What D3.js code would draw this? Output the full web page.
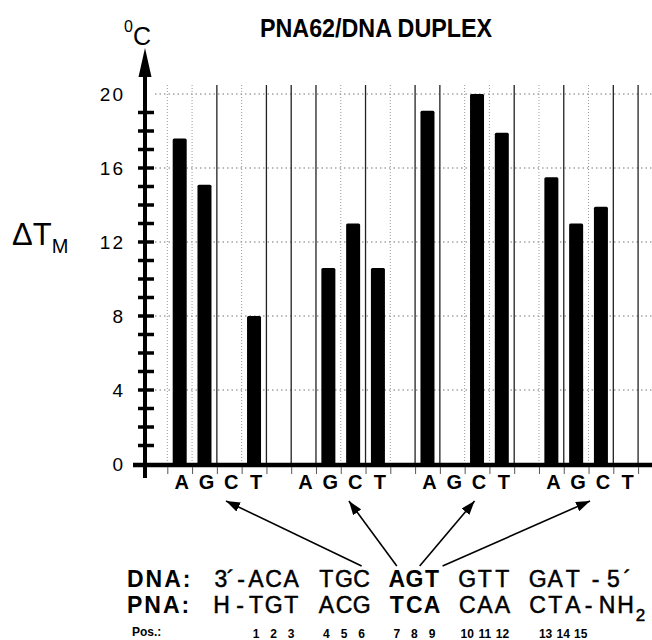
<!DOCTYPE html>
<html>
<head>
<meta charset="utf-8">
<script src="https://cdn.jsdelivr.net/npm/d3@7"></script>
<style>
  body { margin: 0; background: #fff; }
</style>
</head>
<body>
<div id="chart"></div>
<script>
// ---- data ----
const title = "PNA62/DNA DUPLEX";
const bases = ["A", "G", "C", "T"];
// delta Tm (°C) per mismatch base, one array per PNA region (null = no bar)
const tmGroup1 = [17.6, 15.1, null, 8.0];
const tmGroup2 = [null, 10.6, 13.0, 10.6];
const tmGroup3 = [19.1, null, 20.0, 17.9];
const tmGroup4 = [15.5, 13.0, 13.9, null];
const yLabelTicks = [0, 4, 8, 12, 16, 20];
const yMinorTicks = d3.range(1, 20);

const dnaCore = "ACA TGC AGT GTT GAT";
const pnaCore = "TGT ACG TCA CAA CTA";
const boldChars = [8, 9, 10];           // AGT / TCA highlighted
const posLabels = ["1", "2", "3", "", "4", "5", "6", "", "7", "8", "9", "", "10", "11", "12", "", "13", "14", "15"];
// arrows: from sequence character position to x-axis slot
const arrowFrom = [6, 8, 9.3, 10.6];
const arrowTo = [1.87, 6.83, 11.9, 16.56];

// ---- setup ----
const W = 652, H = 640;
const SANS = "'Liberation Sans', Arial, sans-serif";
const NARROW = "'Liberation Sans Narrow', 'Liberation Sans', Arial, sans-serif";

const svg = d3.select("#chart").append("svg")
  .attr("width", W).attr("height", H)
  .style("font-family", SANS);

const x = d3.scaleLinear().domain([0, 18]).range([179.7, 625.7]);   // slot index
const y = d3.scaleLinear().domain([0, 20]).range([464, 94]);
const seqX = d3.scaleLinear().domain([0, 16]).range([256, 537.6]);  // char index

const groups = [tmGroup1, tmGroup2, tmGroup3, tmGroup4];
const slots = [];
groups.forEach((g, gi) => g.forEach((v, j) => slots.push({ slot: gi * 5 + j, base: bases[j], v })));
const bars = slots.filter(d => d.v != null);

// ---- grid ----
const boundaries = d3.range(-0.5, 19, 1);
const solidIdx = [2, 4, 5, 6, 8, 10, 11, 14, 16, 18, 19];

const grid = svg.append("g");
grid.selectAll("line.h").data(yLabelTicks.filter(d => d > 0)).join("line")
  .attr("class", "h")
  .attr("x1", 155).attr("x2", W)
  .attr("y1", d => y(d)).attr("y2", d => y(d))
  .attr("stroke", "#777").attr("stroke-width", 1)
  .attr("stroke-dasharray", "1.5,3");

grid.selectAll("line.v").data(boundaries).join("line")
  .attr("class", "v")
  .attr("x1", d => x(d)).attr("x2", d => x(d))
  .attr("y1", 85).attr("y2", y(0))
  .attr("stroke", (d, i) => solidIdx.includes(i) ? "#222" : "#999")
  .attr("stroke-width", (d, i) => solidIdx.includes(i) ? 1.3 : 1)
  .attr("stroke-dasharray", (d, i) => solidIdx.includes(i) ? null : "1,2");

// ---- bars ----
svg.append("g").selectAll("rect").data(bars).join("rect")
  .attr("x", d => x(d.slot) - 7)
  .attr("width", 14)
  .attr("y", d => y(d.v))
  .attr("height", d => y(0) - y(d.v))
  .attr("rx", 1.5)
  .attr("fill", "#000");

// ---- x axis ----
svg.append("line")
  .attr("x1", 133).attr("x2", W)
  .attr("y1", y(0) + 1).attr("y2", y(0) + 1)
  .attr("stroke", "#000").attr("stroke-width", 4.5);

const xTicks = svg.append("g")
  .attr("transform", `translate(0,${y(0) + 3})`)
  .call(d3.axisBottom(x).tickValues(boundaries).tickSize(7).tickFormat(""));
xTicks.select(".domain").remove();
xTicks.selectAll(".tick line").attr("stroke", "#555").attr("stroke-width", 1);

const xLetters = svg.append("g")
  .attr("transform", `translate(1.5,${y(0)})`)
  .call(d3.axisBottom(x).tickValues(slots.map(d => d.slot))
    .tickFormat((d, i) => slots[i].base).tickSize(0).tickPadding(11));
xLetters.select(".domain").remove();
xLetters.selectAll("text")
  .attr("font-family", NARROW).attr("font-size", 20).attr("font-weight", "bold")
  .attr("fill", "#000");

// ---- y axis ----
svg.append("line")
  .attr("x1", 145).attr("x2", 145).attr("y1", 72).attr("y2", 478)
  .attr("stroke", "#000").attr("stroke-width", 4);
svg.append("path")
  .attr("d", d3.line()([[145, 48], [138.5, 77], [151.5, 77]]) + "Z")
  .attr("fill", "#000");

svg.append("g").selectAll("line").data(yMinorTicks).join("line")
  .attr("x1", 138).attr("x2", 154)
  .attr("y1", d => y(d)).attr("y2", d => y(d))
  .attr("stroke", "#000").attr("stroke-width", 3.5);

const yAxis = svg.append("g")
  .attr("transform", "translate(145,0)")
  .call(d3.axisLeft(y).tickValues(yLabelTicks).tickSize(0).tickPadding(20));
yAxis.select(".domain").remove();
yAxis.selectAll("text")
  .attr("font-family", SANS).attr("font-size", 19)
  .attr("letter-spacing", 2).attr("fill", "#000");

// unit label
const unit = svg.append("text").attr("x", 124).attr("y", 45).attr("fill", "#000");
unit.append("tspan").attr("font-size", 16).attr("dy", -13).text("0");
unit.append("tspan").attr("font-size", 25).attr("dy", 13).text("C");

// delta Tm label
const dtm = svg.append("text").attr("x", 12).attr("y", 245)
  .attr("font-size", 31).attr("fill", "#000");
dtm.append("tspan").text("ΔT");
dtm.append("tspan").attr("font-size", 20).attr("dy", 8).text("M");

// title
svg.append("text")
  .attr("x", 376).attr("y", 37)
  .attr("text-anchor", "middle")
  .attr("font-family", NARROW).attr("font-size", 25).attr("font-weight", "bold")
  .attr("textLength", 232).attr("lengthAdjust", "spacingAndGlyphs")
  .attr("fill", "#000")
  .text(title);

// ---- arrows ----
svg.append("defs").append("marker")
  .attr("id", "head").attr("markerUnits", "userSpaceOnUse")
  .attr("viewBox", "0 0 14 10").attr("refX", 14).attr("refY", 5)
  .attr("markerWidth", 14).attr("markerHeight", 10).attr("orient", "auto")
  .append("path").attr("d", "M0,0L14,5L0,10Z").attr("fill", "#000");

svg.append("g").selectAll("line").data(arrowFrom).join("line")
  .attr("x1", d => seqX(d)).attr("y1", 566)
  .attr("x2", (d, i) => x(arrowTo[i])).attr("y2", 501)
  .attr("stroke", "#000").attr("stroke-width", 1.6)
  .attr("marker-end", "url(#head)");

// ---- sequences ----
function seqLine(prefix, core, suffix, baseline) {
  const chars = [];
  prefix.forEach(p => chars.push(p));
  core.split("").forEach((c, k) => {
    if (c !== " ") chars.push({ ch: c, k, bold: boldChars.includes(k) });
  });
  suffix.forEach(s => chars.push(s));
  const t = svg.append("text").attr("y", baseline)
    .attr("text-anchor", "middle").attr("font-size", 23)
    .attr("fill", "#000");
  t.selectAll("tspan").data(chars).join("tspan")
    .attr("x", d => seqX(d.k))
    .attr("y", d => d.sub ? baseline + 8 : baseline)
    .attr("font-size", d => d.sub ? 17 : null)
    .attr("font-weight", d => d.bold ? "bold" : null)
    .attr("stroke", d => d.bold ? null : "#000")
    .attr("stroke-width", d => d.bold ? null : 0.5)
    .text(d => d.ch);
}

seqLine(
  [{ ch: "3", k: -2 }, { ch: "´", k: -1.45 }, { ch: "-", k: -0.85 }],
  dnaCore,
  [{ ch: "-", k: 19.3 }, { ch: "5", k: 20.3 }, { ch: "´", k: 21.1 }],
  587);
seqLine(
  [{ ch: "H", k: -1.95 }, { ch: "-", k: -0.9 }],
  pnaCore,
  [{ ch: "-", k: 18.9 }, { ch: "N", k: 19.95 }, { ch: "H", k: 21.0 }, { ch: "2", k: 21.85, sub: true }],
  613);

svg.append("text")
  .attr("x", 127).attr("y", 587).attr("font-size", 23).attr("font-weight", "bold")
  .attr("letter-spacing", 2).attr("fill", "#000").text("DNA:");
svg.append("text")
  .attr("x", 127).attr("y", 613).attr("font-size", 23).attr("font-weight", "bold")
  .attr("letter-spacing", 2).attr("fill", "#000").text("PNA:");
svg.append("text")
  .attr("x", 132).attr("y", 636).attr("font-size", 12).attr("font-weight", "bold")
  .attr("fill", "#000").text("Pos.:");

svg.append("g").selectAll("text").data(posLabels.map((p, k) => ({ p, k })).filter(d => d.p))
  .join("text")
  .attr("x", d => seqX(d.k) + (d.k >= 16 ? 8 : 0))
  .attr("y", 638)
  .attr("text-anchor", "middle")
  .attr("font-family", NARROW).attr("font-size", 12).attr("font-weight", "bold")
  .attr("fill", "#000")
  .text(d => d.p);
</script>
</body>
</html>
